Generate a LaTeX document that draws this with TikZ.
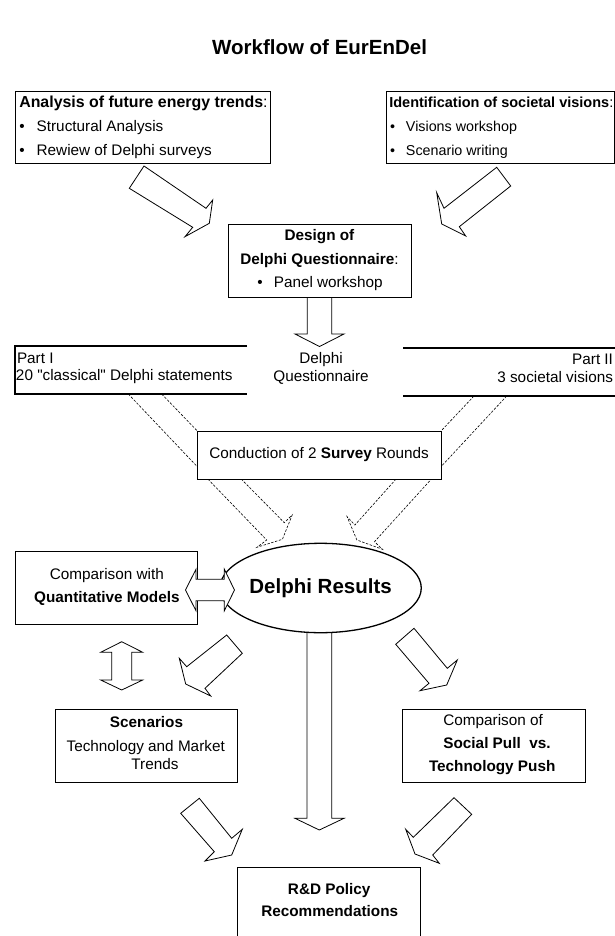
\documentclass[tikz,border=0pt]{standalone}
\usepackage{fontspec}
\setmainfont{Liberation Sans}[Ligatures=TeXOff]
\usetikzlibrary{shapes.geometric}
\newcommand\myfs{\fontsize{15.3pt}{17.5pt}\selectfont}
\newcommand\mybig{\fontsize{20.5pt}{23pt}\selectfont}
\newcommand\myfsa{\fontsize{15.9pt}{18pt}\selectfont}
\newcommand\myfsb{\fontsize{14.5pt}{17pt}\selectfont}
\newcommand\myfsc{\fontsize{14.3pt}{16pt}\selectfont}
\begin{document}
\begin{tikzpicture}[x=1pt,y=-1pt,
  every node/.style={inner sep=0pt, outer sep=0pt, font=\myfs},
  box/.style={draw, line width=0.8pt, fill=white, rectangle},
  blk/.style={draw, line width=0.8pt, fill=white, line join=miter},
  dsh/.style={draw, line width=0.6pt, dash pattern=on 2.5pt off 1.5pt},
  partline/.style={draw, line width=1.2pt},
  lbl/.style={anchor=mid},
  lblw/.style={anchor=mid west},
  lble/.style={anchor=mid east}]
\fill[white] (0,0) rectangle (615,936);
\useasboundingbox (0,0) rectangle (615,936);
\clip (0,0) rectangle (615,936);

% title
\node[anchor=base, font=\mybig\bfseries] (title) at (319.6,55) {Workflow of EurEnDel};

% arrows lying under boxes
\draw[blk] (307.3,290) -- (307.3,334) -- (295,334) -- (319.5,346.5) -- (344,334) -- (331.7,334) -- (331.7,290) -- cycle;
\draw[blk] (307,620) -- (307,818.3) -- (295,818.3) -- (319.3,830) -- (344,818.3) -- (331.7,818.3) -- (331.7,620) -- cycle;

% dashed arrows
\draw[dsh] (128.3,394) -- (197.3,466.7);
\draw[dsh] (161.7,394) -- (197.3,431);
\draw[dsh] (474,396) -- (441,431);
\draw[dsh] (506.7,396) -- (441,466.7);
\draw[dsh] (207.8,479) -- (266.7,540) -- (256.9,547.3) -- (282.4,539.3) -- (292.2,515) -- (284.3,522.7) -- (241.2,479);
\draw[dsh] (396.1,479) -- (354.9,525) -- (347.1,516.7) -- (356.9,540) -- (382.4,549.3) -- (374.5,541.7) -- (431.4,479);

% boxes
\node[box, minimum width=255pt, minimum height=71.6pt] (A) at (143.2,127.5) {};
\node[box, minimum width=228pt, minimum height=71.6pt] (B) at (500,127.5) {};
\node[box, minimum width=182.7pt, minimum height=73pt] (D) at (319.65,260.8) {};
\node[box, minimum width=243.7pt, minimum height=48pt] (C) at (319.15,455) {Conduction of 2 \textbf{Survey} Rounds};
\node[box, minimum width=181.6pt, minimum height=72.6pt] (Q) at (106.5,588) {};
\node[draw, ellipse, line width=1.3pt, fill=white, minimum width=174.5pt, minimum height=89.4pt] (R) at (320.6,588) {\mybig\bfseries Delphi Results};
\node[box, minimum width=182.4pt, minimum height=73pt] (S) at (146.1,745.8) {};
\node[box, minimum width=183pt, minimum height=73pt] (P) at (493.5,745.8) {};
\node[box, minimum width=182.7pt, minimum height=72.7pt] (Rec) at (328.65,903.65) {};

% part lines
\draw[partline] (247,346) -- (15,346) -- (15,394) -- (247,394);
\draw[partline] (403,348) -- (620,348) -- (620,396) -- (403,396);

% block arrows
\draw[blk] (144,166) -- (206,208.3) -- (212.7,200) -- (209.3,223.3) -- (185,236.7) -- (192.7,227.3) -- (129.3,188.3) -- cycle;
\draw[blk] (496.7,167.3) -- (444,208.3) -- (436.7,192.7) -- (441.7,224) -- (465.7,236) -- (459.3,226.7) -- (510.7,186) -- cycle;
\draw[blk] (226.7,635) -- (186.7,666.7) -- (179.3,658.3) -- (185.7,684) -- (210.7,696) -- (205,688.3) -- (242.3,653.3) -- cycle;
\draw[blk] (414,628.3) -- (447.3,668.3) -- (457.3,660) -- (446.7,685) -- (420,690.7) -- (429,683.3) -- (395.7,644.3) -- cycle;
\draw[blk] (199.3,798.3) -- (231.7,838.3) -- (242.3,829.3) -- (231.7,855) -- (205,861) -- (214.3,851.7) -- (180.7,813.3) -- cycle;
\draw[blk] (454,797.7) -- (413.3,837.3) -- (405.7,829.3) -- (415,854) -- (439.3,863.3) -- (432.7,855) -- (471.7,814.3) -- cycle;
% double arrows
\draw[blk] (185.5,590) -- (196,569.2) -- (196,579.2) -- (224.3,579.2) -- (224.3,569.2) -- (234.5,590) -- (224.3,610.8) -- (224.3,600.8) -- (196,600.8) -- (196,610.8) -- cycle;
\draw[blk] (121.7,641.7) -- (142.7,652.3) -- (131.7,652.3) -- (131.7,680) -- (142.7,680) -- (121.7,690) -- (100.7,680) -- (111.7,680) -- (111.7,652.3) -- (100.7,652.3) -- cycle;

% texts
\node[lblw, font=\myfsa] (a1) at (19.3,105) {\textbf{Analysis of future energy trends}:};
\node[lblw] (a2) at (19.3,129) {\makebox[17.4pt][l]{•}Structural Analysis};
\node[lblw] (a3) at (19.3,152.7) {\makebox[17.4pt][l]{•}Rewiew of Delphi surveys};
\node[lblw, font=\myfsb] (b1) at (389.3,105) {\textbf{Identification of societal visions}:};
\node[lblw, font=\myfsc] (b2) at (390,129) {\makebox[16pt][l]{•}Visions workshop};
\node[lblw, font=\myfsc] (b3) at (390,152.7) {\makebox[16pt][l]{•}Scenario writing};

\node[lbl] (d1) at (319.5,237.7) {\textbf{Design of}};
\node[lbl] (d2) at (319.5,261.7) {\textbf{Delphi Questionnaire}:};
\node[lbl] (d3) at (320,285) {\makebox[16.5pt][l]{•}Panel workshop};

\node[lblw] (p1) at (17,361) {Part I};
\node[lblw] (p2) at (16,378) {20 "classical" Delphi statements};
\node[lbl] (m1) at (321,361) {Delphi};
\node[lbl] (m2) at (321,378.5) {Questionnaire};
\node[lble] (q1) at (613,362) {Part II};
\node[lble] (q2) at (613,380) {3 societal visions};

\node[lbl] (c1) at (106.9,577) {Comparison with};
\node[lbl] (c2) at (106.9,600) {\textbf{Quantitative Models}};

\node[lbl] (s1) at (146.5,725) {\textbf{Scenarios}};
\node[lbl] (s2) at (145.7,749.3) {Technology and Market};
\node[lbl] (s3) at (154.9,766.7) {Trends};

\node[lbl] (t1) at (493.1,723.3) {Comparison of};
\node[lbl] (t2) at (497,746) {\textbf{Social Pull\ \ vs.}};
\node[lbl] (t3) at (492.2,769.3) {\textbf{Technology Push}};

\node[lbl] (r1) at (329.2,892) {\textbf{R\&D Policy}};
\node[lbl] (r2) at (329.7,914.3) {\textbf{Recommendations}};
\end{tikzpicture}
\end{document}
